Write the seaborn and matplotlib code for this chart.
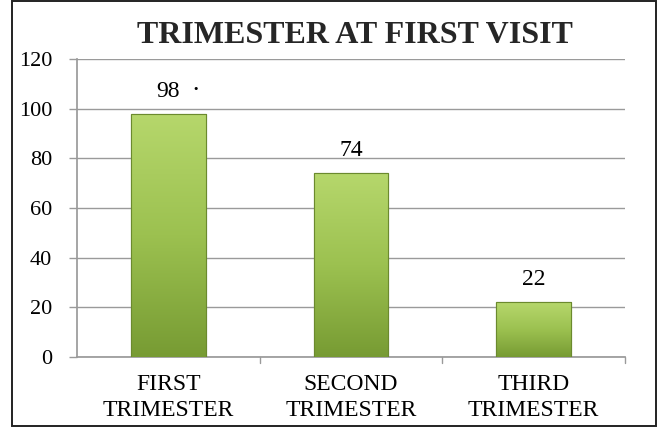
import numpy as np
import pandas as pd
import matplotlib
matplotlib.use("Agg")
import matplotlib.pyplot as plt
import seaborn as sns

categories = ["FIRST\nTRIMESTER", "SECOND\nTRIMESTER", "THIRD\nTRIMESTER"]
counts = [98, 74, 22]
labels = ["98", "74", "22"]

df = pd.DataFrame({"trimester": categories, "count": counts})

sns.set_theme(style="white")
plt.rcParams["font.family"] = ["Liberation Serif", "DejaVu Serif"]

fig = plt.figure(figsize=(6.61, 4.32), dpi=100)
ax = fig.add_axes([0.1165, 0.1736, 0.829, 0.69])

sns.barplot(data=df, x="trimester", y="count", color="#9BBB59",
            width=0.41, edgecolor="#6B8A2E", linewidth=0.8, ax=ax, zorder=3)

# vertical gradient fill on each bar
grad = np.linspace(0, 1, 256).reshape(-1, 1)
cmap = matplotlib.colors.LinearSegmentedColormap.from_list(
    "g", ["#779B33", "#9CC150", "#B6D76C"])
for p in ax.patches:
    x0, y0 = p.get_x(), p.get_y()
    w, h = p.get_width(), p.get_height()
    im = ax.imshow(grad, cmap=cmap, aspect="auto", origin="lower",
                   extent=[x0, x0 + w, y0, y0 + h], zorder=3.5)
    im.set_clip_path(p)
    ax.add_patch(plt.Rectangle((x0, y0), w, h, fill=False,
                               edgecolor="#6B8A2E", linewidth=0.8, zorder=4))

for i, (v, t) in enumerate(zip(counts, labels)):
    ax.text(i, v + 4.8, t, ha="center", va="bottom", fontsize=17, color="black")
# stray dot next to the first label, as in the source image
ax.text(0.15, counts[0] + 6.0, "\u00b7", ha="center", va="bottom",
        fontsize=14, fontweight="bold", color="black")

ax.set_xlim(-0.5, 2.5)
ax.set_ylim(0, 120)
ax.set_yticks(range(0, 121, 20))
ax.yaxis.grid(True, color="#9A9A9A", linewidth=1.0, zorder=0)
ax.set_axisbelow(True)
ax.set_xlabel("")
ax.set_ylabel("")
for s in ["top", "right"]:
    ax.spines[s].set_visible(False)
ax.spines["bottom"].set_color("#9A9A9A")
ax.spines["left"].set_color("#9A9A9A")
ax.tick_params(axis="y", labelsize=16, length=6, width=1, color="#9A9A9A",
               pad=12, colors="black", left=True)
ax.tick_params(axis="y", color="#9A9A9A")
ax.tick_params(axis="x", labelsize=17, length=0, pad=12, colors="black")
ax.set_xticks([0, 1, 2])
ax.set_xticklabels(categories, linespacing=1.35)
for xb in [0.5, 1.5, 2.5]:
    ax.plot([xb, xb], [0, -2.5], color="#9A9A9A", lw=1, clip_on=False)

fig.text(0.537, 0.918, "TRIMESTER AT FIRST VISIT", ha="center", va="center",
         fontsize=23, fontweight="bold")

border = plt.Rectangle((0.018, 0.014), 0.974, 0.984, transform=fig.transFigure,
                       fill=False, edgecolor="#222222", linewidth=1.4)
fig.patches.append(border)

fig.savefig("out.png", dpi=100)
